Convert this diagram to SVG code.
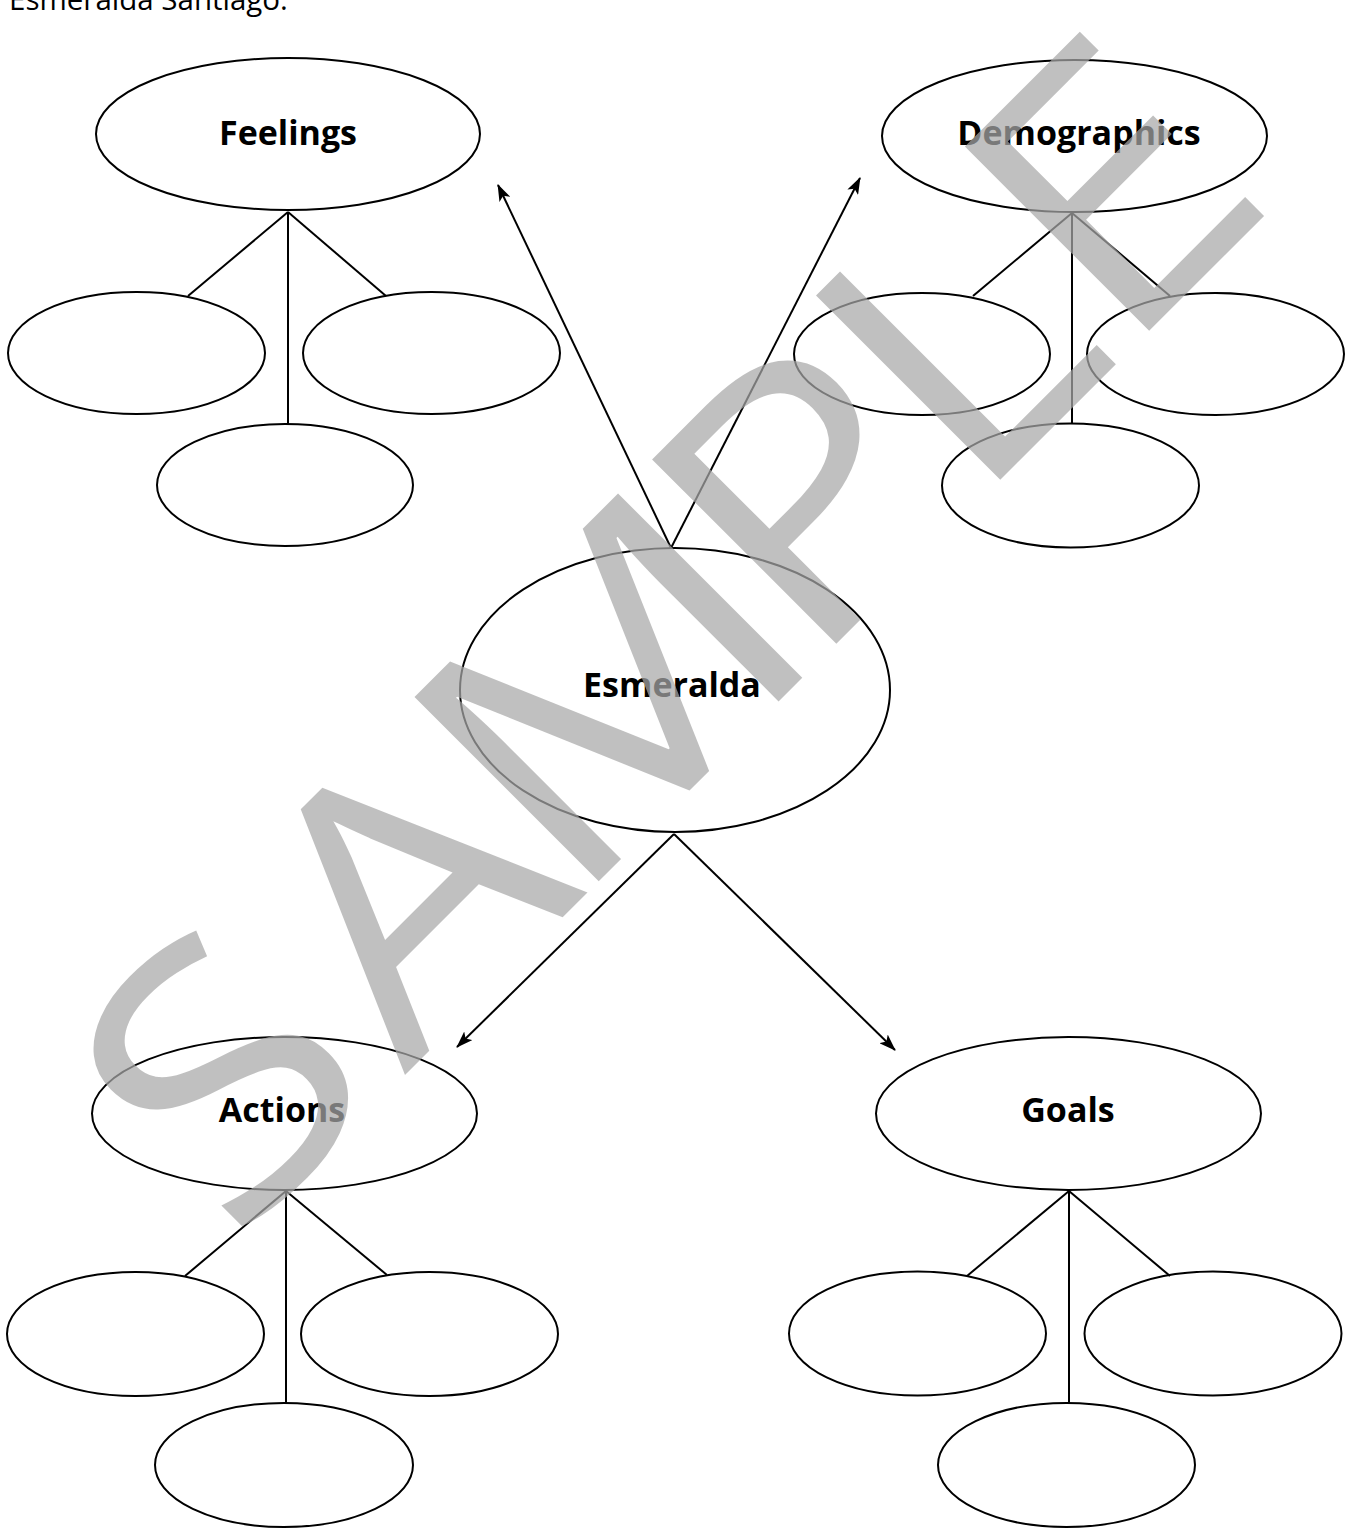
<svg xmlns="http://www.w3.org/2000/svg" width="1355" height="1528" viewBox="0 0 1355 1528">
<style>
.bg{fill:#fff}
.el{fill:none;stroke:#000;stroke-width:2}
.ln{fill:none;stroke:#000;stroke-width:2}
.ar{fill:none;stroke:#000;stroke-width:2;marker-end:url(#ah)}
.lbl{font-family:"Open Sans","DejaVu Sans",sans-serif;font-weight:700;font-size:34px;fill:#000;text-anchor:middle}
.cap{font-family:"Open Sans","DejaVu Sans",sans-serif;font-size:29.5px;fill:#000}
.wm{font-family:"Open Sans","DejaVu Sans",sans-serif;font-size:365px;fill:#a7a7a7;fill-opacity:0.72}
</style>
<defs>
<marker id="ah" markerUnits="userSpaceOnUse" markerWidth="17" markerHeight="12" refX="16" refY="6" orient="auto" viewBox="0 0 17 12">
<path d="M0,0 L17,6 L0,12 L4,6 z" fill="#000"/>
</marker>
</defs>
<rect class="bg" x="0" y="0" width="1355" height="1528"/>
<text class="cap" x="9" y="10">Esmeralda Santiago.</text>

<g id="connectors">
<line class="ar" x1="671" y1="548" x2="498" y2="185"/>
<line class="ar" x1="671" y1="548" x2="860" y2="178"/>
<line class="ar" x1="674" y1="834" x2="457" y2="1047"/>
<line class="ar" x1="674" y1="834" x2="895" y2="1050"/>
<line class="ln" x1="288" y1="212" x2="188" y2="296"/>
<line class="ln" x1="288" y1="212" x2="386" y2="296"/>
<line class="ln" x1="288" y1="212" x2="288" y2="424"/>
<line class="ln" x1="1072" y1="213" x2="973" y2="296"/>
<line class="ln" x1="1072" y1="213" x2="1170" y2="296"/>
<line class="ln" x1="1072" y1="213" x2="1072" y2="423"/>
<line class="ln" x1="286" y1="1191" x2="185" y2="1276"/>
<line class="ln" x1="286" y1="1191" x2="387" y2="1275"/>
<line class="ln" x1="286" y1="1191" x2="286" y2="1403"/>
<line class="ln" x1="1069" y1="1191" x2="967" y2="1276"/>
<line class="ln" x1="1069" y1="1191" x2="1170" y2="1276"/>
<line class="ln" x1="1069" y1="1191" x2="1069" y2="1403"/>
</g>

<g id="feelings">
<ellipse class="el" cx="288" cy="134" rx="192" ry="76"/>
<text class="lbl" x="288" y="145">Feelings</text>
</g>
<g id="feelings-1"><ellipse class="el" cx="136.5" cy="353" rx="128.5" ry="61"/></g>
<g id="feelings-2"><ellipse class="el" cx="431.5" cy="353" rx="128.5" ry="61"/></g>
<g id="feelings-3"><ellipse class="el" cx="285" cy="485" rx="128" ry="61"/></g>

<g id="demographics">
<ellipse class="el" cx="1074.5" cy="136" rx="192.5" ry="76"/>
<text class="lbl" x="1079" y="145">Demographics</text>
</g>
<g id="demographics-1"><ellipse class="el" cx="922" cy="354" rx="128" ry="61"/></g>
<g id="demographics-2"><ellipse class="el" cx="1215.5" cy="354" rx="128.5" ry="61"/></g>
<g id="demographics-3"><ellipse class="el" cx="1070.5" cy="485.5" rx="128.5" ry="62"/></g>

<g id="esmeralda">
<ellipse class="el" cx="675" cy="690" rx="215" ry="142"/>
<text class="lbl" x="672" y="697">Esmeralda</text>
</g>

<g id="actions">
<ellipse class="el" cx="284.5" cy="1113.5" rx="192.5" ry="76.5"/>
<text class="lbl" x="282" y="1122">Actions</text>
</g>
<g id="actions-1"><ellipse class="el" cx="135.5" cy="1334" rx="128.5" ry="62"/></g>
<g id="actions-2"><ellipse class="el" cx="429.5" cy="1334" rx="128.5" ry="62"/></g>
<g id="actions-3"><ellipse class="el" cx="284" cy="1465" rx="129" ry="62"/></g>

<g id="goals">
<ellipse class="el" cx="1068.5" cy="1113.5" rx="192.5" ry="76.5"/>
<text class="lbl" x="1068" y="1122">Goals</text>
</g>
<g id="goals-1"><ellipse class="el" cx="917.5" cy="1333.5" rx="128.5" ry="62"/></g>
<g id="goals-2"><ellipse class="el" cx="1213" cy="1333.5" rx="128.5" ry="62"/></g>
<g id="goals-3"><ellipse class="el" cx="1066.5" cy="1465" rx="128.5" ry="62"/></g>

<text class="wm" transform="translate(740,740) rotate(-45) scale(1.12,1)" x="-640 -423 -214 86 293 481" y="0">SAMPLE</text>
</svg>
